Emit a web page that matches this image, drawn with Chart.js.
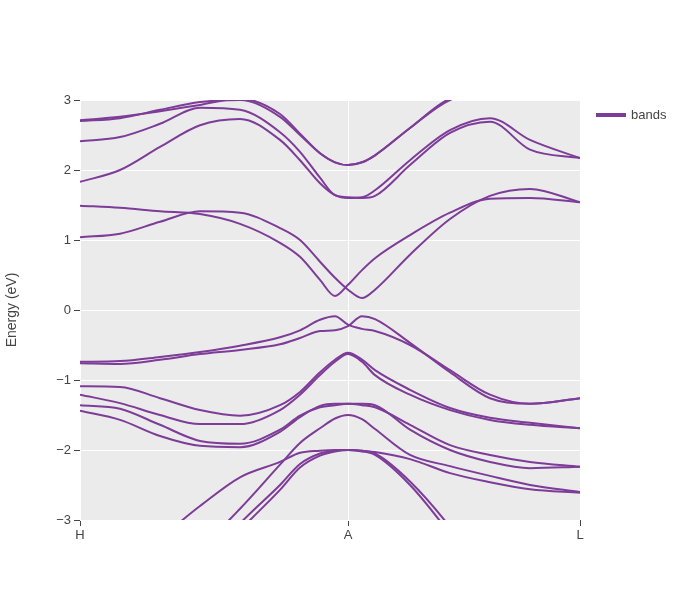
<!DOCTYPE html>
<html>
<head>
<meta charset="utf-8">
<script src="https://cdn.jsdelivr.net/npm/chart.js@4"></script>
<style>
  body { margin: 0; background: #fff; font-family: "Liberation Sans", Arial, sans-serif; }
  #wrap { position: relative; width: 700px; height: 600px; }
  #legend { position: absolute; left: 596px; top: 107px; font-size: 13px; color: #444; display: flex; align-items: center; }
  #legend span.sw { display: inline-block; width: 30px; height: 4px; background: #7d3c98; margin-right: 5px; }
</style>
</head>
<body>
<div id="wrap">
  <canvas id="bandChart" width="700" height="600"></canvas>
  <div id="legend"><span class="sw"></span>bands</div>
</div>
<script>
/* ===============================
   DATA
================================ */
const kpath = [0, 0.08, 0.16, 0.24, 0.32, 0.40, 0.44, 0.48, 0.51, 0.536, 0.564, 0.59, 0.66, 0.74, 0.82, 0.90, 1.0];
const kLabels = ["H", "A", "L"];
const kTicks = [0, 0.536, 1.0];
const yTicks = [-3, -2, -1, 0, 1, 2, 3];

const bandA = [-0.74, -0.73, -0.67, -0.6, -0.51, -0.39, -0.29, -0.14, -0.09, -0.21, -0.27, -0.3, -0.5, -0.86, -1.21, -1.34, -1.26];
const bandB = [-0.76, -0.77, -0.71, -0.63, -0.57, -0.49, -0.4, -0.3, -0.29, -0.23, -0.09, -0.13, -0.47, -0.89, -1.26, -1.34, -1.26];
const bandC = [1.49, 1.46, 1.41, 1.37, 1.23, 0.96, 0.76, 0.43, 0.2, 0.36, 0.57, 0.74, 1.07, 1.39, 1.59, 1.6, 1.54];
const bandD = [1.04, 1.09, 1.26, 1.41, 1.39, 1.17, 1.0, 0.69, 0.46, 0.29, 0.17, 0.29, 0.79, 1.3, 1.63, 1.73, 1.54];
const bandE = [1.83, 2.0, 2.33, 2.64, 2.73, 2.43, 2.14, 1.81, 1.64, 1.6, 1.61, 1.71, 2.14, 2.57, 2.74, 2.43, 2.17];
const bandF = [2.41, 2.47, 2.66, 2.89, 2.86, 2.54, 2.26, 1.89, 1.64, 1.61, 1.6, 1.63, 2.07, 2.53, 2.69, 2.29, 2.17];
const bandG = [2.7, 2.74, 2.86, 2.97, 3.0, 2.76, 2.5, 2.24, 2.11, 2.07, 2.11, 2.21, 2.6, 3.0, 3.1, 3.1, 3.1];
const bandH = [2.71, 2.76, 2.84, 2.93, 3.02, 2.8, 2.52, 2.24, 2.11, 2.07, 2.11, 2.21, 2.6, 3.02, 3.1, 3.1, 3.1];
const bandI = [-1.09, -1.1, -1.26, -1.43, -1.51, -1.36, -1.17, -0.89, -0.71, -0.61, -0.71, -0.86, -1.14, -1.4, -1.54, -1.61, -1.69];
const bandJ = [-1.21, -1.33, -1.5, -1.63, -1.63, -1.43, -1.21, -0.93, -0.74, -0.63, -0.74, -0.93, -1.21, -1.43, -1.57, -1.64, -1.69];
const bandK = [-1.36, -1.41, -1.64, -1.87, -1.91, -1.71, -1.51, -1.39, -1.36, -1.34, -1.36, -1.39, -1.64, -1.93, -2.07, -2.17, -2.24];
const bandL = [-1.44, -1.57, -1.8, -1.94, -1.96, -1.74, -1.53, -1.37, -1.34, -1.34, -1.34, -1.36, -1.71, -2.0, -2.17, -2.26, -2.24];
const bandM = [-4.6, -4.2, -3.8, -3.4, -2.84, -2.21, -1.9, -1.69, -1.55, -1.5, -1.56, -1.7, -2.07, -2.23, -2.37, -2.5, -2.6];
const bandN = [-3.9, -3.6, -3.25, -2.8, -2.39, -2.17, -2.04, -2.01, -2.0, -2.0, -2.01, -2.03, -2.13, -2.33, -2.46, -2.56, -2.61];
const bandO = [-5.5, -5.0, -4.4, -3.7, -3.05, -2.5, -2.2, -2.05, -2.01, -2.0, -2.02, -2.07, -2.5, -3.2, -4.0, -4.6, -5.2];
const bandP = [-5.6, -5.1, -4.5, -3.8, -3.15, -2.57, -2.25, -2.08, -2.02, -2.0, -2.01, -2.05, -2.45, -3.1, -3.9, -4.5, -5.1];

const bands = [bandA, bandB, bandC, bandD, bandE, bandF, bandG, bandH,
               bandI, bandJ, bandK, bandL, bandM, bandN, bandO, bandP];

const BAND_COLOR = "#7d3c98";

/* ===============================
   PLOT BACKGROUND
================================ */
const plotBg = {
  id: "plotBg",
  beforeDraw(chart) {
    const { ctx, chartArea: a } = chart;
    ctx.save();
    ctx.fillStyle = "#ebebeb";
    ctx.fillRect(a.left, a.top, a.right - a.left, a.bottom - a.top);
    ctx.restore();
  }
};

/* ===============================
   CHART
================================ */
new Chart(document.getElementById("bandChart").getContext("2d"), {
  type: "line",
  data: {
    datasets: bands.map((b, i) => ({
      label: i === 0 ? "bands" : "",
      data: b.map((e, j) => ({ x: kpath[j], y: e })),
      borderColor: BAND_COLOR,
      borderWidth: 2,
      pointRadius: 0,
      cubicInterpolationMode: "monotone",
      fill: false
    }))
  },
  options: {
    responsive: false,
    animation: false,
    layout: { padding: { top: 100, right: 120, left: 0, bottom: 0 } },
    plugins: { legend: { display: false }, tooltip: { enabled: false } },
    scales: {
      x: {
        type: "linear",
        min: 0,
        max: 1,
        afterBuildTicks: s => { s.ticks = kTicks.map(v => ({ value: v })); },
        afterFit: s => { s.height = 80; },
        ticks: {
          callback: (v) => kLabels[kTicks.indexOf(v)],
          color: "#444",
          font: { family: "Liberation Sans", size: 13 },
          maxRotation: 0,
          padding: 2
        },
        grid: { color: "#fff", lineWidth: 1, tickLength: 6, tickColor: "#444", drawOnChartArea: true },
        border: { display: false }
      },
      y: {
        min: -3,
        max: 3,
        afterBuildTicks: s => { s.ticks = yTicks.map(v => ({ value: v })); },
        afterFit: s => { s.width = 80; },
        ticks: {
          callback: v => String(v).replace("-", "\u2212"),
          color: "#444",
          font: { family: "Liberation Sans", size: 13 },
          padding: 3
        },
        grid: { color: "#fff", lineWidth: 1, tickLength: 6, tickColor: "#444" },
        border: { display: false },
        title: {
          display: true,
          text: "Energy (eV)",
          color: "#444",
          font: { family: "Liberation Sans", size: 14 },
          padding: { bottom: 8 }
        }
      }
    }
  },
  plugins: [plotBg]
});
</script>
</body>
</html>
